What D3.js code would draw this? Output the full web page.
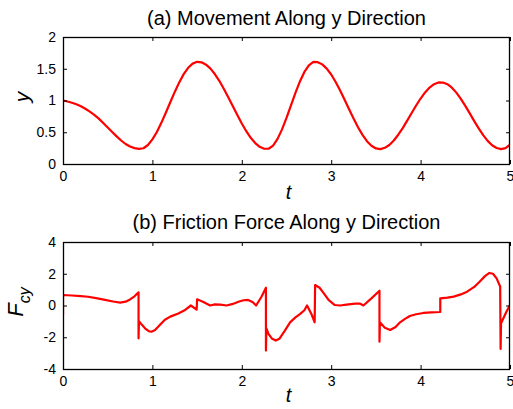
<!DOCTYPE html>
<html>
<head>
<meta charset="utf-8">
<script src="https://cdn.jsdelivr.net/npm/d3@7"></script>
<style>
  html, body { margin: 0; padding: 0; background: #fff; }
  svg { display: block; }
  text { font-family: "Liberation Sans", Arial, sans-serif; fill: #000; }
</style>
</head>
<body>
<svg id="chart" width="513" height="409"></svg>
<script>
// ---- Data ----
// Panel (a): y(t) sampled every 0.05 s from t = 0 to 5
const yTimeStep = 0.05;
const yValues = [
  1.00, 0.985, 0.965, 0.94, 0.91, 0.87, 0.825, 0.775, 0.715, 0.645,
  0.575, 0.505, 0.435, 0.37, 0.315, 0.275, 0.25, 0.238, 0.248, 0.299,
  0.387, 0.504, 0.648, 0.806, 0.972, 1.135, 1.285, 1.415, 1.515, 1.581,
  1.609, 1.601, 1.564, 1.501, 1.413, 1.306, 1.182, 1.048, 0.909, 0.770,
  0.637, 0.516, 0.412, 0.330, 0.270, 0.240, 0.240, 0.291, 0.396, 0.545,
  0.725, 0.922, 1.120, 1.300, 1.449, 1.553, 1.607, 1.604, 1.569, 1.502,
  1.409, 1.292, 1.157, 1.012, 0.863, 0.716, 0.579, 0.458, 0.359, 0.287,
  0.245, 0.235, 0.255, 0.300, 0.370, 0.461, 0.566, 0.683, 0.803, 0.921,
  1.031, 1.127, 1.203, 1.256, 1.284, 1.283, 1.256, 1.202, 1.124, 1.027,
  0.916, 0.797, 0.676, 0.560, 0.454, 0.364, 0.296, 0.252, 0.235, 0.250,
  0.305
];

// Panel (b): friction force F_cy(t) (repeated times mark jumps)
const fTimes = [
  0, 0, 0.1, 0.2, 0.28, 0.37, 0.47, 0.56, 0.64, 0.7,
  0.75, 0.8, 0.845, 0.845, 0.85, 0.88, 0.92, 0.96, 0.99, 1.03,
  1.08, 1.14, 1.2, 1.29, 1.36, 1.43, 1.495, 1.5, 1.57, 1.645,
  1.7, 1.76, 1.83, 1.9, 1.97, 2.02, 2.07, 2.12, 2.16, 2.22,
  2.27, 2.27, 2.275, 2.3, 2.34, 2.38, 2.42, 2.48, 2.54, 2.6,
  2.65, 2.7, 2.73, 2.78, 2.815, 2.82, 2.87, 2.92, 2.97, 3.04,
  3.1, 3.17, 3.27, 3.32, 3.36, 3.45, 3.54, 3.54, 3.545, 3.6,
  3.66, 3.72, 3.77, 3.83, 3.88, 3.95, 4.03, 4.12, 4.22, 4.22,
  4.3, 4.37, 4.45, 4.52, 4.6, 4.66, 4.72, 4.77, 4.81, 4.85,
  4.89, 4.895, 4.9, 4.96, 5.0
];
const fValues = [
  -0.6, 0.66, 0.63, 0.59, 0.55, 0.46, 0.35, 0.25, 0.18, 0.24,
  0.38, 0.58, 0.83, -2.07, -0.98, -1.2, -1.45, -1.62, -1.65, -1.55,
  -1.25, -0.9, -0.7, -0.5, -0.3, 0.0, -0.26, 0.39, 0.22, 0.0,
  0.07, 0.05, 0.0, 0.1, 0.25, 0.33, 0.35, 0.22, 0.0, 0.55,
  1.12, -2.84, -1.44, -1.8, -2.1, -2.21, -2.1, -1.6, -1.06, -0.75,
  -0.54, -0.3, 0.0, -0.55, -1.06, 1.29, 1.12, 0.75, 0.35, 0.03,
  0.0, 0.05, 0.12, 0.12, 0.0, 0.45, 0.93, -2.28, -1.06, -1.4,
  -1.54, -1.35, -1.06, -0.83, -0.66, -0.55, -0.47, -0.43, -0.41, 0.45,
  0.5, 0.56, 0.7, 0.87, 1.17, 1.5, 1.85, 2.05, 2.0, 1.71,
  1.2, -2.74, -1.12, -0.39, 0.03
];

const xTicks = [0, 1, 2, 3, 4, 5];
const yTicksA = [0, 0.5, 1, 1.5, 2];
const yTicksB = [-4, -2, 0, 2, 4];
const titleA = "(a) Movement Along y Direction";
const titleB = "(b) Friction Force Along y Direction";

// ---- Drawing ----
const svg = d3.select("#chart");
const plotLeft = 63, plotRight = 510;

function panel(cfg) {
  const x = d3.scaleLinear().domain([0, 5]).range([plotLeft, plotRight]);
  const y = d3.scaleLinear().domain(cfg.yDomain).range([cfg.bottom, cfg.top]);
  const g = svg.append("g");
  const clipId = "clip" + cfg.id;
  svg.append("clipPath").attr("id", clipId)
    .append("rect").attr("x", plotLeft).attr("y", cfg.top)
    .attr("width", plotRight - plotLeft).attr("height", cfg.bottom - cfg.top);

  const line = d3.line().x(d => x(d[0])).y(d => y(d[1]));
  g.append("path").datum(cfg.data)
    .attr("clip-path", `url(#${clipId})`)
    .attr("fill", "none").attr("stroke", "#ff0000")
    .attr("stroke-width", 2.2).attr("stroke-linejoin", "round")
    .attr("d", line);

  const tl = 4;
  const fmt = d => String(d);
  const bottomAx = d3.axisBottom(x).tickValues(cfg.xTicks).tickSize(-tl).tickPadding(7).tickFormat(fmt);
  const topAx = d3.axisTop(x).tickValues(cfg.xTicks).tickSize(-tl).tickFormat("");
  const leftAx = d3.axisLeft(y).tickValues(cfg.yTicks).tickSize(-tl).tickPadding(7).tickFormat(fmt);
  const rightAx = d3.axisRight(y).tickValues(cfg.yTicks).tickSize(-tl).tickFormat("");

  const axes = [
    g.append("g").attr("transform", `translate(0,${cfg.bottom})`).call(bottomAx),
    g.append("g").attr("transform", `translate(0,${cfg.top})`).call(topAx),
    g.append("g").attr("transform", `translate(${plotLeft},0)`).call(leftAx),
    g.append("g").attr("transform", `translate(${plotRight},0)`).call(rightAx)
  ];
  axes.forEach(a => {
    a.selectAll(".domain").remove();
    a.selectAll("line").attr("stroke", "#000").attr("stroke-width", 1);
    a.selectAll("text").attr("font-size", 14)
      .attr("font-family", "Liberation Sans, Arial, sans-serif").attr("fill", "#000");
  });
  g.append("rect").attr("x", plotLeft + 0.5).attr("y", cfg.top + 0.5)
    .attr("width", plotRight - plotLeft - 1).attr("height", cfg.bottom - cfg.top)
    .attr("fill", "none").attr("stroke", "#000").attr("stroke-width", 1.3);

  g.append("text").attr("x", (plotLeft + plotRight) / 2).attr("y", cfg.titleY)
    .attr("text-anchor", "middle").attr("font-size", 20).text(cfg.title);
  g.append("text").attr("x", (plotLeft + plotRight) / 2 + 2).attr("y", cfg.xLabelY)
    .attr("text-anchor", "middle").attr("font-size", 20).attr("font-style", "italic").text("t");
  return { x, y, g };
}

const pA = panel({
  id: "a", top: 37, bottom: 164, yDomain: [0, 2], xTicks, yTicks: yTicksA,
  data: yValues.map((v, i) => [i * yTimeStep, v]),
  title: titleA, titleY: 25, xLabelY: 199
});
pA.g.append("text").attr("transform", "translate(29,97) rotate(-90)")
  .attr("text-anchor", "middle").attr("font-size", 21).attr("font-style", "italic").text("y");

const pB = panel({
  id: "b", top: 242, bottom: 369, yDomain: [-4, 4], xTicks, yTicks: yTicksB,
  data: fTimes.map((t, i) => [t, fValues[i]]),
  title: titleB, titleY: 229, xLabelY: 402
});
const fl = pB.g.append("text").attr("transform", "translate(23,302) rotate(-90)")
  .attr("text-anchor", "middle").attr("font-style", "italic");
fl.append("tspan").attr("font-size", 22).text("F");
fl.append("tspan").attr("font-size", 16).attr("dy", 7).text("cy");
</script>
</body>
</html>
